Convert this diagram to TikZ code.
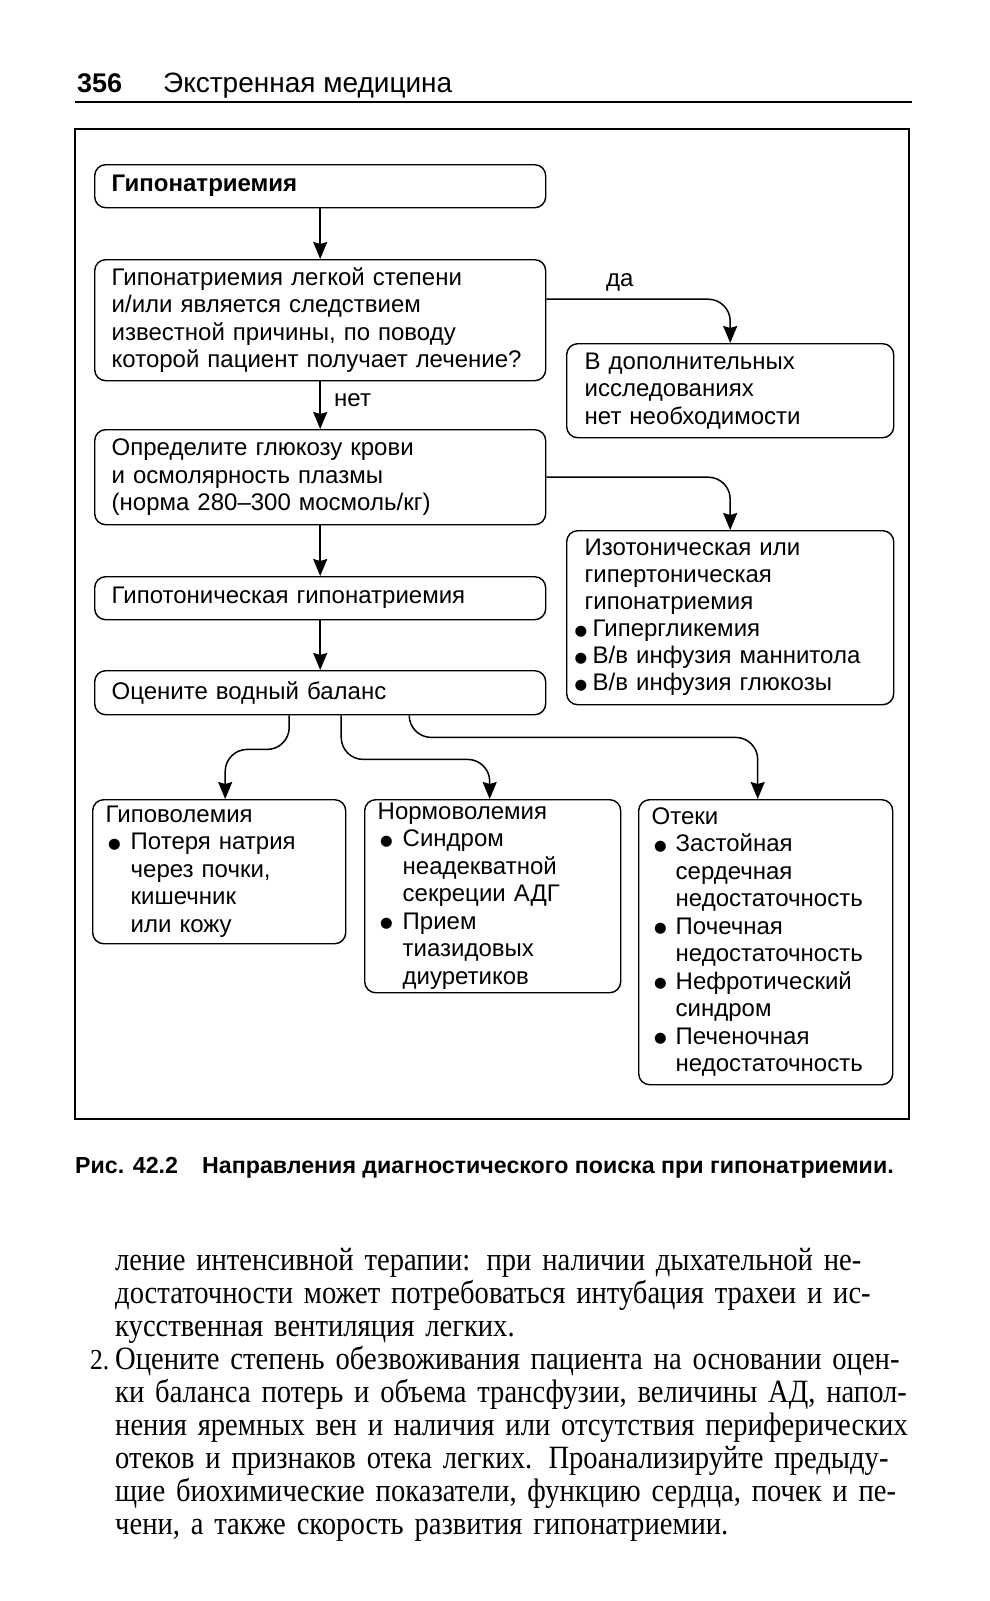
\documentclass[tikz,border=0pt]{standalone}
\usepackage{fontspec}
\setmainfont{Liberation Sans}
\newfontfamily\bodyfont{Liberation Serif}[FakeStretch=0.88]
\newfontfamily\dotfont{DejaVu Sans}
\usetikzlibrary{arrows.meta}

\newcommand{\bigdot}{\raisebox{1.5pt}{\dotfont\fontsize{14.5}{14.5}\selectfont ●}}
\newcommand{\itemdot}[1]{\makebox[#1][l]{\hspace{2.5pt}\bigdot}}

\begin{document}
\begin{tikzpicture}[x=1pt,y=-1pt]
    \tikzstyle{flowbox}=[draw,rounded corners=11pt,line width=1.4pt,anchor=north west,align=left,inner xsep=17pt,inner ysep=0pt,font=\fontsize{24}{27.5}\selectfont]
    \tikzstyle{sidebox}=[flowbox,inner xsep=18pt]
    \tikzstyle{lowbox}=[flowbox,inner xsep=13pt]
    \tikzstyle{flowarrow}=[-{Stealth[length=17pt,width=14pt,inset=2pt]},line width=1.5pt,rounded corners=22pt]
    \tikzstyle{pagetext}=[anchor=base west,inner sep=0pt]
    \useasboundingbox (0,0) rectangle (990,1601);
    % page head
    \node[pagetext,font=\fontsize{27}{30}\selectfont\bfseries] (pagenum) at (77,92) {356};
    \node[pagetext,font=\fontsize{28}{30}\selectfont] (runhead) at (163,92) {Экстренная медицина};
    \draw[line width=2pt] (75,102) -- (912,102);
    \draw[line width=1.5pt] (75,129) rectangle (909,1119);
    % main column
    \node[flowbox,text width=417pt,minimum height=43pt] (hypo) at (94,164) {\textbf{Гипонатриемия}};
    \node[flowbox,text width=417pt,minimum height=121pt] (question) at (94,259) {Гипонатриемия легкой степени\\и/или является следствием\\известной причины, по поводу\\которой пациент получает лечение?};
    \node[flowbox,text width=417pt,minimum height=95pt] (glucose) at (94,429) {Определите глюкозу крови\\и осмолярность плазмы\\(норма 280--300 мосмоль/кг)};
    \node[flowbox,text width=417pt,minimum height=43pt] (hypotonic) at (94,576) {Гипотоническая гипонатриемия};
    \node[flowbox,text width=417pt,minimum height=44pt] (balance) at (94,670) {Оцените водный баланс};
    % right column
    \node[sidebox,text width=291pt,minimum height=94pt] (nofurther) at (566,343) {В дополнительных\\исследованиях\\нет необходимости};
    \node[sidebox,text width=291pt,minimum height=174pt,font=\fontsize{24}{27}\selectfont] (isotonic) at (566,530) {Изотоническая или\\гипертоническая\\гипонатриемия\\\hspace*{-10pt}\makebox[18pt][l]{\bigdot}Гипергликемия\\\hspace*{-10pt}\makebox[18pt][l]{\bigdot}В/в инфузия маннитола\\\hspace*{-10pt}\makebox[18pt][l]{\bigdot}В/в инфузия глюкозы};
    % bottom row
    \node[lowbox,text width=227pt,minimum height=144pt] (hypovol) at (92,799) {Гиповолемия\\\itemdot{25pt}Потеря натрия\\\hspace*{25pt}через почки,\\\hspace*{25pt}кишечник\\\hspace*{25pt}или кожу};
    \node[lowbox,text width=230pt,minimum height=193pt] (normovol) at (364,799) {Нормоволемия\\\itemdot{25pt}Синдром\\\hspace*{25pt}неадекватной\\\hspace*{25pt}секреции АДГ\\\itemdot{25pt}Прием\\\hspace*{25pt}тиазидовых\\\hspace*{25pt}диуретиков};
    \node[lowbox,text width=228pt,minimum height=285pt] (edema) at (638,799) {Отеки\\\itemdot{24pt}Застойная\\\hspace*{24pt}сердечная\\\hspace*{24pt}недостаточность\\\itemdot{24pt}Почечная\\\hspace*{24pt}недостаточность\\\itemdot{24pt}Нефротический\\\hspace*{24pt}синдром\\\itemdot{24pt}Печеночная\\\hspace*{24pt}недостаточность};
    % connectors
    \draw[flowarrow] (hypo) -- (question);
    \draw[flowarrow] ([yshift=21pt]question.east) -| (nofurther.north);
    \node[pagetext,font=\fontsize{24}{27.5}\selectfont] (yes) at (606,286) {да};
    \draw[flowarrow] (question) -- (glucose);
    \node[pagetext,font=\fontsize{24}{27.5}\selectfont] (no) at (334,406) {нет};
    \draw[flowarrow] (glucose.east) -| (isotonic.north);
    \draw[flowarrow] (glucose) -- (hypotonic);
    \draw[flowarrow] (hypotonic) -- (balance);
    \draw[flowarrow] ([xshift=-31pt]balance.south) -- ++(0,34) -| ([xshift=6pt]hypovol.north);
    \draw[flowarrow] ([xshift=21pt]balance.south) -- ++(0,44) -| ([xshift=-3pt]normovol.north);
    \draw[flowarrow] ([xshift=89pt]balance.south) -- ++(0,22) -| ([xshift=-8pt]edema.north);
    % caption
    \node[pagetext,font=\fontsize{23.2}{26}\selectfont\bfseries] (figlabel) at (75,1173) {Рис. 42.2};
    \node[pagetext,font=\fontsize{23.2}{26}\selectfont\bfseries] (figtitle) at (202,1173) {Направления диагностического поиска при гипонатриемии.};
    % running text
    \node[pagetext,font=\bodyfont\fontsize{29}{33}\selectfont] (itemnum) at (90,1369) {2.};
    \node[pagetext,text width=792pt,align=left,font=\bodyfont\fontsize{32.5}{33.1}\selectfont] (bodytext) at (115,1270) {%
        \makebox[792pt][s]{ление интенсивной терапии: при наличии дыхательной не-}\\
        \makebox[792pt][s]{достаточности может потребоваться интубация трахеи и ис-}\\
        кусственная вентиляция легких.\\
        \makebox[792pt][s]{Оцените степень обезвоживания пациента на основании оцен-}\\
        \makebox[792pt][s]{ки баланса потерь и объема трансфузии, величины АД, напол-}\\
        \makebox[792pt][s]{нения яремных вен и наличия или отсутствия периферических}\\
        \makebox[792pt][s]{отеков и признаков отека легких. Проанализируйте предыду-}\\
        \makebox[792pt][s]{щие биохимические показатели, функцию сердца, почек и пе-}\\
        чени, а также скорость развития гипонатриемии.};
\end{tikzpicture}
\end{document}
